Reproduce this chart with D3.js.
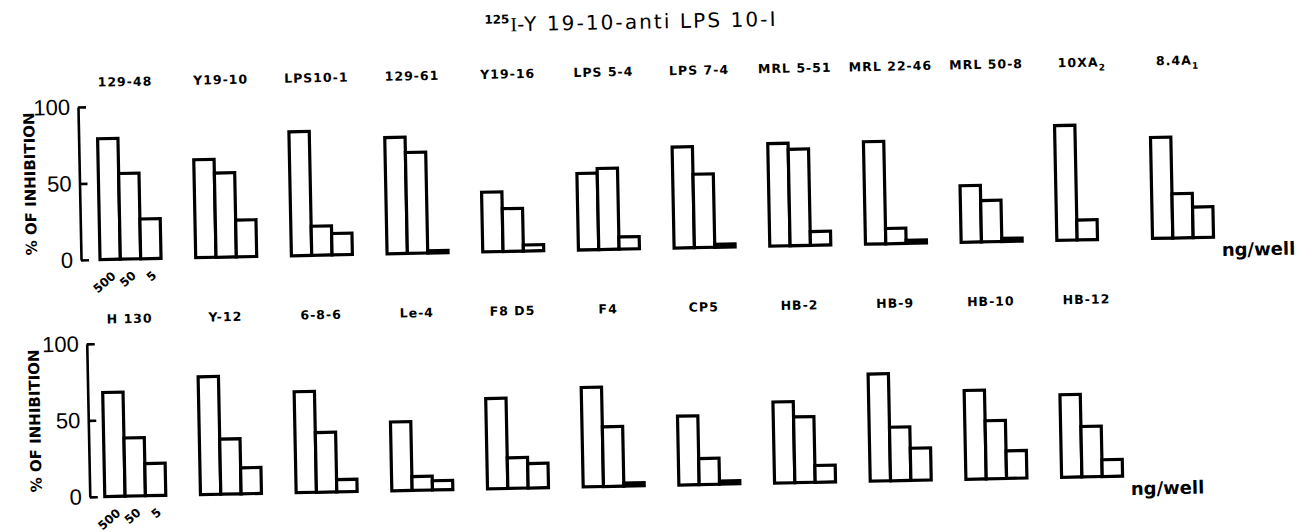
<!DOCTYPE html>
<html>
<head>
<meta charset="utf-8">
<script src="https://cdn.jsdelivr.net/npm/d3@7"></script>
<style>
  body { margin: 0; background: #fff; }
  svg { display: block; background: #fff; }
</style>
</head>
<body>
<svg id="chart" width="1304" height="532"></svg>
<script>
// Inhibition of 125I-Y 19-10 binding to anti LPS 10-1, three doses per antibody
const doses = ["500", "50", "5"];
const yTicks = [0, 50, 100];
const titleParts = ["125", "I", "-Y 19-10-anti LPS 10-I"];
const yLabel = "% OF INHIBITION";
const unitLabel = "ng/well";

// "_" marks a subscript character
const topNames = ["129-48", "Y19-10", "LPS10-1", "129-61", "Y19-16", "LPS 5-4",
                  "LPS 7-4", "MRL 5-51", "MRL 22-46", "MRL 50-8", "10ⅩA_2", "8.4A_1"];
const topValues = [
  [79, 56, 26], [64, 55, 24], [81, 19, 14], [76, 66, 1.5],
  [39, 28, 4],  [50, 53, 8],  [66, 48, 2],  [67, 63, 9],
  [67, 10, 2],  [37, 27, 2],  [75, 13, 0],  [66, 29, 20]
];

const bottomNames = ["H 130", "Y-12", "6-8-6", "Le-4", "F8 D5", "F4",
                     "CP5", "HB-2", "HB-9", "HB-10", "HB-12"];
const bottomValues = [
  [68, 38, 21], [77, 36, 17], [66, 39, 8],  [45, 9, 6],
  [59, 20, 16], [65, 39, 2],  [45, 17, 2],  [53, 43, 11],
  [70, 35, 21], [58, 38, 18], [54, 33, 11]
];

const svg = d3.select("#chart");
// the whole plate sits at a slight tilt
const page = svg.append("g").attr("transform", "rotate(-1.15,80,258)");

const firstGroup = 100, groupStep = 95.7, groupW = 61, fullPx = 153;
const xGroup = d3.scaleLinear().domain([0, 1]).range([firstGroup, firstGroup + groupStep]);
const xBar = d3.scaleBand().domain(doses).range([0, groupW]).padding(0);

const rows = [
  { names: topNames, values: topValues, base: 260, axisX: 81 },
  { names: bottomNames, values: bottomValues, base: 497, axisX: 85 }
];

const sans = "'DejaVu Sans', sans-serif";

// title
const title = page.append("text")
  .attr("x", 489).attr("y", 40)
  .attr("font-family", sans).attr("font-size", 20)
  .attr("fill", "#000");
title.append("tspan").text(titleParts[0])
  .attr("font-size", 12).attr("font-weight", "bold").attr("dy", -8);
title.append("tspan").text(titleParts[1])
  .attr("font-family", "'Liberation Serif', serif").attr("dy", 8).attr("dx", 1);
title.append("tspan").text(titleParts[2]).attr("letter-spacing", 2.1);

rows.forEach(row => {
  const y = d3.scaleLinear().domain([0, 100]).range([row.base, row.base - fullPx]);
  const g = page.append("g");

  // axis line with ticks pointing inward
  const axisLine = g.append("g")
    .attr("transform", `translate(${row.axisX},0)`)
    .call(d3.axisRight(y).tickValues(yTicks).tickSize(8).tickSizeOuter(0).tickFormat(""));
  axisLine.selectAll("path, line").attr("stroke", "#000").attr("stroke-width", 2.6);

  // tick numbers
  const axisText = g.append("g")
    .attr("transform", `translate(${row.axisX},0)`)
    .call(d3.axisLeft(y).tickValues(yTicks).tickSize(0).tickPadding(8));
  axisText.select(".domain").remove();
  axisText.selectAll("text")
    .attr("font-family", "'Liberation Sans', sans-serif")
    .attr("font-size", 22).attr("fill", "#000");

  // y-axis title
  g.append("text")
    .attr("transform", `translate(37,${row.base - 77}) rotate(-90)`)
    .attr("text-anchor", "middle")
    .attr("font-family", sans).attr("font-weight", "bold").attr("font-size", 15)
    .attr("fill", "#000")
    .text(yLabel);

  // dose labels under the first group
  g.selectAll(".dose").data(doses).join("text")
    .attr("class", "dose")
    .attr("transform", d => `translate(${xGroup(0) + xBar(d) + xBar.bandwidth() / 2 + 6},${row.base + 18}) rotate(-40)`)
    .attr("text-anchor", "end")
    .attr("font-family", sans).attr("font-weight", "bold").attr("font-size", 12)
    .attr("fill", "#000")
    .text(d => d);

  // one panel per antibody
  const panels = g.selectAll(".panel").data(row.names).join("g")
    .attr("class", "panel")
    .attr("transform", (d, i) => `translate(${xGroup(i)},0)`);

  panels.selectAll("rect")
    .data((d, i) => row.values[i].map((v, k) => ({ dose: doses[k], value: v })))
    .join("rect")
    .attr("x", d => xBar(d.dose))
    .attr("y", d => y(d.value))
    .attr("width", xBar.bandwidth())
    .attr("height", d => y(0) - y(d.value))
    .attr("fill", "#fff")
    .attr("stroke", "#000")
    .attr("stroke-width", 3.2)
    .attr("stroke-linejoin", "miter");

  const labels = panels.append("text")
    .attr("x", groupW / 2 - 2)
    .attr("y", row.base - 173)
    .attr("text-anchor", "middle")
    .attr("font-family", sans).attr("font-weight", "bold").attr("font-size", 12.5)
    .attr("letter-spacing", 1)
    .attr("fill", "#000");
  labels.each(function (name) {
    const t = d3.select(this);
    const parts = name.split("_");
    t.append("tspan").text(parts[0]);
    if (parts[1]) {
      t.append("tspan").text(parts[1]).attr("font-size", 9).attr("dy", 4);
    }
  });

  // unit label after the last group
  g.append("text")
    .attr("x", xGroup(row.names.length - 1) + groupW + 8)
    .attr("y", row.base + 19)
    .attr("font-family", sans).attr("font-weight", "bold").attr("font-size", 18)
    .attr("fill", "#000")
    .text(unitLabel);
});
</script>
</body>
</html>
